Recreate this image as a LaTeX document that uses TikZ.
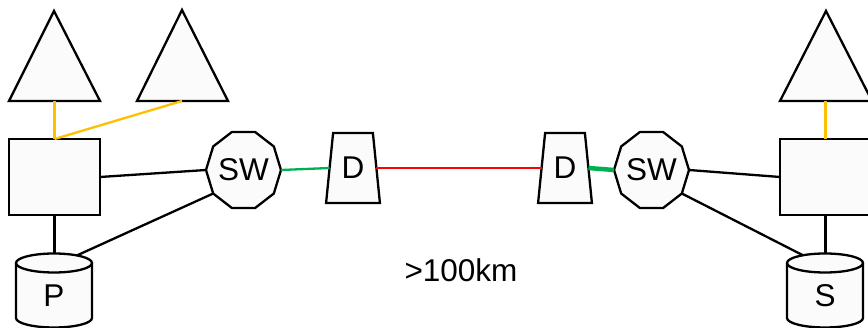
\documentclass[tikz,border=0pt]{standalone}
\usepackage{fontspec}
\setmainfont{Liberation Sans}
\usetikzlibrary{shapes.geometric}
\definecolor{shfill}{RGB}{251,251,251}
\definecolor{yel}{RGB}{255,192,0}
\definecolor{grn}{RGB}{0,176,80}
\definecolor{rd}{RGB}{255,0,0}
\begin{document}
\begin{tikzpicture}[x=1pt,y=-1pt,
  shp/.style={draw=black, fill=shfill, line width=2.3pt, line join=miter},
  lbl/.style={font=\fontsize{31.5}{36}\selectfont, inner sep=0pt},
  blk/.style={draw=black, line width=2.3pt},
  yline/.style={draw=yel, line width=2.3pt},
  gline/.style={draw=grn, line width=2.3pt},
  gthick/.style={draw=grn, line width=4.5pt},
  rline/.style={draw=rd, line width=2.3pt},
  boxn/.style={shp, rectangle, minimum width=91pt, minimum height=76pt, outer sep=0pt},
  swn/.style={circle, minimum size=75pt, inner sep=0pt, outer sep=0pt},
  dnode/.style={shp, trapezium, trapezium left angle=79.5, trapezium right angle=79.5,
     trapezium stretches=true, minimum width=54pt, minimum height=70pt, lbl, outer sep=0pt}]
\useasboundingbox[fill=white] (0,0) rectangle (868,328);

% triangles
\draw[shp] (9,101) -- (54,11) -- (100,101) -- cycle;
\coordinate (t1) at (54.5,101);
\draw[shp] (137,101) -- (182,10) -- (228,101) -- cycle;
\coordinate (t2) at (182,101);
\draw[shp] (780,101) -- (826,11) -- (872,101) -- cycle;
\coordinate (t3) at (825.5,101);

% boxes
\node[boxn] (b1) at (54.5,177) {};
\node[boxn] (b2) at (825.5,177) {};

% cylinders
\draw[shp] (16,263) -- (16,318) arc[start angle=180,end angle=0,x radius=38,y radius=9.5]
  -- (92,263) arc[start angle=0,end angle=-180,x radius=38,y radius=9.5] -- cycle;
\draw[blk] (16,263) arc[start angle=180,end angle=0,x radius=38,y radius=9.5];
\node[lbl] (P) at (54,295.5) {P};
\coordinate (Ptop) at (54.5,253.5);
\coordinate (Pcon) at (77,255.4);

\draw[shp] (787,263) -- (787,318) arc[start angle=180,end angle=0,x radius=38,y radius=9.5]
  -- (863,263) arc[start angle=0,end angle=-180,x radius=38,y radius=9.5] -- cycle;
\draw[blk] (787,263) arc[start angle=180,end angle=0,x radius=38,y radius=9.5];
\node[lbl] (S) at (825,295.5) {S};
\coordinate (Stop) at (825.5,253.5);
\coordinate (Scon) at (803,255.3);

% switches
\node[swn] (sw1) at (243.5,170) {};
\draw[shp] ([shift={(0:37.5 and 40)}]sw1.center)
  \foreach \a in {36,72,...,324} { -- ([shift={(\a:37.5 and 40)}]sw1.center) } -- cycle;
\node[lbl] (sw1t) at (sw1.center) {SW};
\coordinate (sw1ll) at ([shift={(144:37.5 and 40)}]sw1.center);

\node[swn] (sw2) at (651.5,170) {};
\draw[shp] ([shift={(0:37.5 and 40)}]sw2.center)
  \foreach \a in {36,72,...,324} { -- ([shift={(\a:37.5 and 40)}]sw2.center) } -- cycle;
\node[lbl] (sw2t) at (sw2.center) {SW};
\coordinate (sw2lr) at ([shift={(36:37.5 and 40)}]sw2.center);

% D nodes
\node[dnode] (D1) at (353,168) {D};
\node[dnode] (D2) at (565,168) {D};

% connectors
\draw[yline] (t1) -- (b1.north);
\draw[yline] (b1.north) -- (t2);
\draw[yline] (t3) -- (b2.north);

\draw[blk] (b1.east) -- (sw1.west);
\draw[blk] (b1.south) -- (Ptop);
\draw[blk] (sw1ll) -- (Pcon);

\draw[blk] (sw2.east) -- (b2.west);
\draw[blk] (b2.south) -- (Stop);
\draw[blk] (sw2lr) -- (Scon);

\draw[gline] (sw1.east) -- (D1.west);
\draw[rline] (D1.east) -- (D2.west);
\draw[gthick] (D2.east) -- (sw2.west);

\node[lbl] (dist) at (461,270) {>100km};
\end{tikzpicture}
\end{document}
